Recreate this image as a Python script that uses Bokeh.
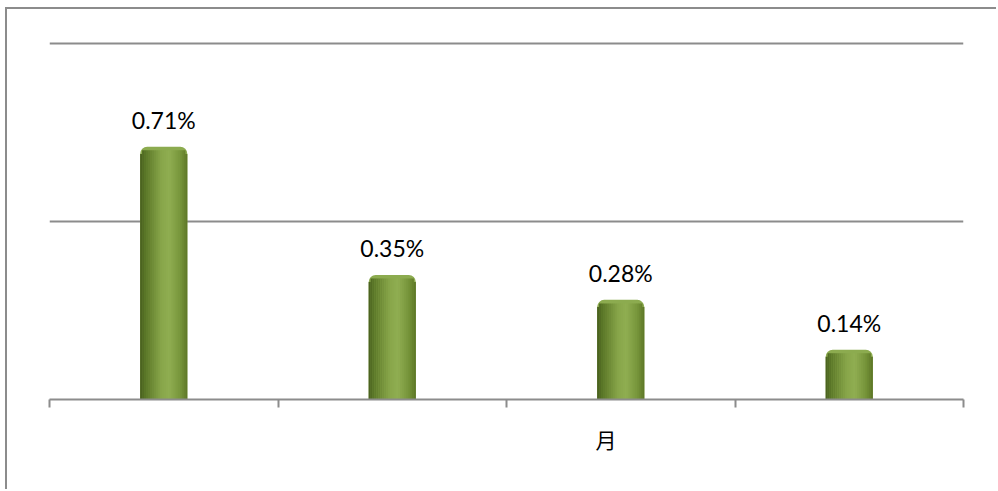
import numpy as np
from bokeh.plotting import figure
from bokeh.models import FixedTicker, Title, Range1d
from bokeh.embed import file_html
from bokeh.resources import INLINE
from bokeh.core.properties import value

# ---- data ----
values = [0.71, 0.35, 0.28, 0.14]
labels = ["0.71%", "0.35%", "0.28%", "0.14%"]
axis_title = "月"
grid_levels = [0.5, 1.0]

# ---- style ----
GRAY = "#8c8c8c"
BAR_W = 0.206
N_STRIPS = 24
stops = [(0.0, (72, 94, 30)), (0.12, (92, 120, 40)), (0.45, (136, 166, 74)),
         (0.62, (144, 174, 82)), (0.85, (118, 148, 58)), (1.0, (92, 118, 38))]


def grad_color(t):
    for (t0, c0), (t1, c1) in zip(stops[:-1], stops[1:]):
        if t0 <= t <= t1:
            f = (t - t0) / (t1 - t0)
            c = [int(round(a + (b - a) * f)) for a, b in zip(c0, c1)]
            return "#%02x%02x%02x" % tuple(c)
    return "#%02x%02x%02x" % stops[-1][1]


n = len(values)
xs = [i + 0.5 for i in range(n)]

p = figure(width=991, height=482, output_backend="svg", toolbar_location=None,
           x_range=Range1d(0, n), y_range=Range1d(0, 1.09),
           min_border_left=42, min_border_right=35, min_border_top=2, min_border_bottom=92)
p.outline_line_color = None
p.background_fill_color = "white"
p.border_fill_color = "white"
p.yaxis.visible = False
p.xgrid.visible = False
p.ygrid.ticker = FixedTicker(ticks=grid_levels)
p.ygrid.grid_line_color = GRAY
p.ygrid.grid_line_width = 2

p.xaxis.ticker = FixedTicker(ticks=list(range(n + 1)))
p.xaxis.major_label_overrides = {i: "" for i in range(n + 1)}
p.xaxis.major_label_text_font_size = "2px"
p.xaxis.major_label_standoff = 0
p.xaxis.axis_line_color = GRAY
p.xaxis.axis_line_width = 2
p.xaxis.major_tick_line_color = GRAY
p.xaxis.major_tick_line_width = 2
p.xaxis.major_tick_out = 8
p.xaxis.major_tick_in = 0
p.xaxis.minor_tick_line_color = None

# rounded cap / base
p.vbar(x=xs, top=values, width=BAR_W, bottom=0, fill_color="#8cab4f",
       line_color=None, border_radius=[7, 7, 0, 0])
# cylindrical gradient strips
cap = 0.010
sw = BAR_W / N_STRIPS
for k in range(N_STRIPS):
    t = (k + 0.5) / N_STRIPS
    off = -BAR_W / 2 + (k + 0.5) * sw
    edge = 0.010 if (k == 0 or k == N_STRIPS - 1) else 0.0
    p.vbar(x=[x + off for x in xs], top=[v - cap - edge for v in values], bottom=0,
           width=sw * 1.1, fill_color=grad_color(t), line_color=None)

p.text(x=xs, y=values, text=labels, y_offset=-27, text_align="center",
       text_baseline="alphabetic", text_font=value("Lato"), text_font_size="23px",
       text_color="black")

p.add_layout(Title(text=axis_title, align="left", offset=546, standoff=28,
                   text_font="Noto Sans CJK SC", text_font_size="21px",
                   text_font_style="normal", text_color="black"), "below")

p.styles = {"border-top": "2px solid " + GRAY, "border-left": "2px solid " + GRAY,
            "margin-left": "5px", "margin-top": "7px"}

open("out.html", "w").write(file_html(p, INLINE))
